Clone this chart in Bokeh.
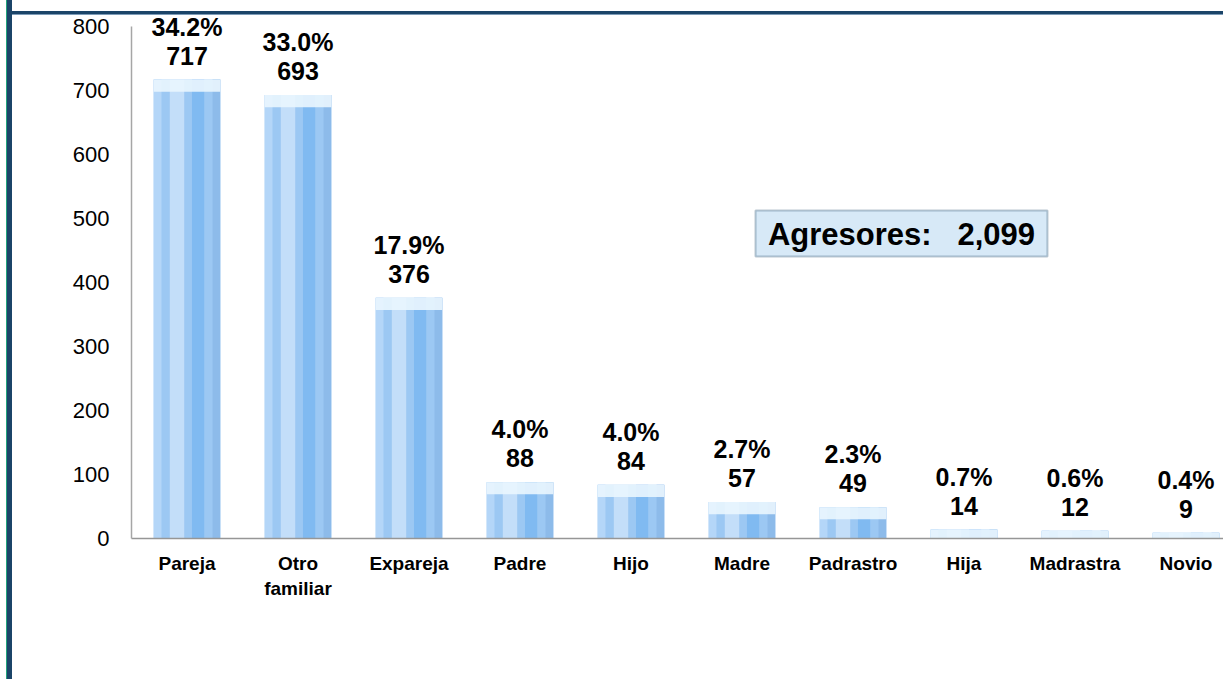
import numpy as np
from bokeh.plotting import figure
from bokeh.core.properties import value
from bokeh.models import (Range1d, FixedTicker, ColumnDataSource,
                          LabelSet, BoxAnnotation, Label)
from bokeh.transform import dodge
from bokeh.embed import file_html
from bokeh.resources import INLINE

# ---- data ----
categories = ["Pareja", "Otro familiar", "Expareja", "Padre", "Hijo",
              "Madre", "Padrastro", "Hija", "Madrastra", "Novio"]
tick_labels = ["Pareja", "Otro\nfamiliar", "Expareja", "Padre", "Hijo",
               "Madre", "Padrastro", "Hija", "Madrastra", "Novio"]
counts = [717, 693, 376, 88, 84, 57, 49, 14, 12, 9]
percents = ["34.2%", "33.0%", "17.9%", "4.0%", "4.0%", "2.7%", "2.3%", "0.7%", "0.6%", "0.4%"]
total_label = "Agresores:\u00a0\u00a0\u00a02,099"
y_ticks = [0, 100, 200, 300, 400, 500, 600, 700, 800]

FONT = "Liberation Sans"
NAVY = "#1b4468"

x = list(range(len(categories)))
cnt = np.array(counts, dtype=float)
src = ColumnDataSource(dict(
    x=x, top=counts,
    cap_bottom=np.maximum(cnt - 19, 0),
    count_txt=[str(c) for c in counts],
    pct_txt=percents,
))

# transparent canvas; the chart-area frame line on top is drawn by CSS behind it
top_line = (f"linear-gradient(to bottom, {NAVY} 0px, {NAVY} 3px, #7d9cb8 3px, #7d9cb8 4px) "
            "0px 11px / 100% 4px no-repeat")
p = figure(width=1216, height=679, output_backend="svg", toolbar_location=None,
           x_range=Range1d(-0.5, 9.383), y_range=Range1d(0, 840.6),
           min_border_left=119, min_border_right=0, min_border_top=0, min_border_bottom=141,
           background_fill_alpha=0, border_fill_alpha=0,
           styles={"border-left": f"5px solid {NAVY}", "margin-left": "7px",
                   "background": top_line,
                   "box-shadow": "-1px 0 0 #22a37c"})
p.outline_line_color = None
p.xgrid.visible = False
p.ygrid.visible = False

# bars (light blue "water" look built from layered strips)
p.vbar(x="x", top="top", bottom=0, width=0.6, source=src,
       fill_color="#9cc8f3", line_color=None)
p.vbar(x=dodge("x", -0.265, range=p.x_range), top="top", bottom=0, width=0.07, source=src,
       fill_color="#b4d6f8", line_color=None)
p.vbar(x=dodge("x", 0.265, range=p.x_range), top="top", bottom=0, width=0.07, source=src,
       fill_color="#8dbbea", line_color=None)
p.vbar(x=dodge("x", -0.09, range=p.x_range), top="top", bottom=0, width=0.13, source=src,
       fill_color="#e4f1fd", fill_alpha=0.55, line_color=None)
p.vbar(x=dodge("x", 0.1, range=p.x_range), top="top", bottom=0, width=0.11, source=src,
       fill_color="#5fa8f0", fill_alpha=0.45, line_color=None)
p.vbar(x="x", top="top", bottom="cap_bottom", width=0.6, source=src,
       fill_color="#eaf6fe", fill_alpha=0.9, line_color=None)

# axes
p.xaxis.ticker = FixedTicker(ticks=x)
p.xaxis.major_label_overrides = {i: t for i, t in enumerate(tick_labels)}
p.xaxis.major_label_text_font = FONT
p.xaxis.major_label_text_font_style = "bold"
p.xaxis.major_label_text_font_size = "19px"
p.xaxis.major_label_text_color = "black"
p.xaxis.major_label_standoff = 14
p.xaxis.major_tick_out = 0
p.xaxis.major_tick_in = 0
p.xaxis.minor_tick_out = 0
p.xaxis.minor_tick_in = 0
p.xaxis.axis_line_color = "#969696"
p.xaxis.axis_line_width = 1.5

p.yaxis.ticker = FixedTicker(ticks=y_ticks)
p.yaxis.bounds = (0, 800)
p.yaxis.major_label_text_font = FONT
p.yaxis.major_label_text_font_size = "22px"
p.yaxis.major_label_text_color = "black"
p.yaxis.major_label_standoff = 22
p.yaxis.major_tick_out = 0
p.yaxis.major_tick_in = 0
p.yaxis.minor_tick_out = 0
p.yaxis.minor_tick_in = 0
p.yaxis.axis_line_color = "#a6a6a6"
p.yaxis.axis_line_width = 1.5

# value labels
common = dict(x="x", y="top", source=src, text_align="center", text_baseline="middle",
              text_font=value(FONT), text_font_style="bold", text_font_size="25px",
              text_color="black")
p.add_layout(LabelSet(text="count_txt", y_offset=24, **common))
p.add_layout(LabelSet(text="pct_txt", y_offset=53, **common))

# total box
p.add_layout(BoxAnnotation(left=5.122, right=7.752, bottom=440.6, top=512.5,
                           fill_color="#d7e9f7", fill_alpha=1.0,
                           line_color=NAVY, line_width=2))
p.add_layout(Label(x=6.437, y=475, text=total_label, text_align="center",
                   text_baseline="middle", text_font=FONT, text_font_style="bold",
                   text_font_size="31px", text_color="black"))

open("out.html", "w").write(file_html(p, INLINE))
